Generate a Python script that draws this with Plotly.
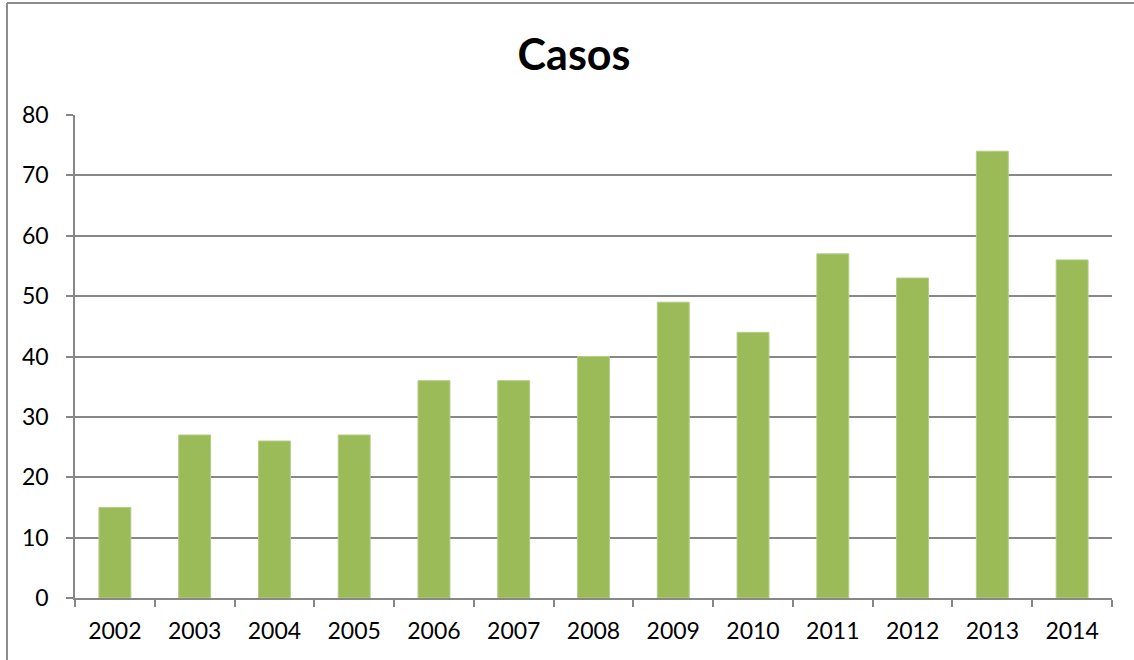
import plotly.graph_objects as go

years = ["2002", "2003", "2004", "2005", "2006", "2007", "2008",
         "2009", "2010", "2011", "2012", "2013", "2014"]
casos = [15, 27, 26, 27, 36, 36, 40, 49, 44, 57, 53, 74, 56]
y_ticks = [0, 10, 20, 30, 40, 50, 60, 70, 80]

W, H = 1134, 660

fig = go.Figure()
fig.add_trace(go.Bar(
    x=years, y=casos,
    marker=dict(color="#9BBB59", line=dict(color="#B5CC87", width=1)),
    width=0.4,
))

axis_grey = "#878787"
fig.update_layout(
    width=W, height=H,
    margin=dict(l=75, r=22, t=115, b=62),
    paper_bgcolor="white", plot_bgcolor="white",
    showlegend=False,
    title=dict(text="<b>Casos</b>", x=574 / W, xanchor="center", y=1 - 55/H, yanchor="middle",
               font=dict(family="Lato, Open Sans, sans-serif", size=43, color="black")),
    font=dict(family="Lato, Open Sans, sans-serif", size=23, color="black"),
    xaxis=dict(
        type="category", tickson="boundaries", ticks="outside", ticklen=7,
        tickcolor=axis_grey, tickwidth=1.5,
        showline=True, linecolor=axis_grey, linewidth=1.5,
        showgrid=False, tickfont=dict(size=23), ticklabelstandoff=12,
    ),
    yaxis=dict(
        range=[0, 80], tickvals=y_ticks, ticks="outside", ticklen=7,
        tickcolor=axis_grey, tickwidth=1.5,
        showline=True, linecolor=axis_grey, linewidth=1.5,
        showgrid=True, gridcolor=axis_grey, gridwidth=1.5,
        zeroline=False, tickfont=dict(size=23), ticklabelstandoff=13,
    ),
    shapes=[
        dict(type="line", xref="paper", yref="paper",
             xsizemode="pixel", xanchor=0, x0=-68, x1=-68,
             ysizemode="pixel", yanchor=0, y0=-80, y1=595,
             line=dict(color="#8c8c8c", width=2)),
        dict(type="line", xref="paper", yref="paper",
             xsizemode="pixel", xanchor=0, x0=-68, x1=1080,
             ysizemode="pixel", yanchor=0, y0=595, y1=595,
             line=dict(color="#8c8c8c", width=2)),
    ],
)

fig.write_html("out.html", config={"displayModeBar": False},
               post_script="document.body.style.margin='0';")
